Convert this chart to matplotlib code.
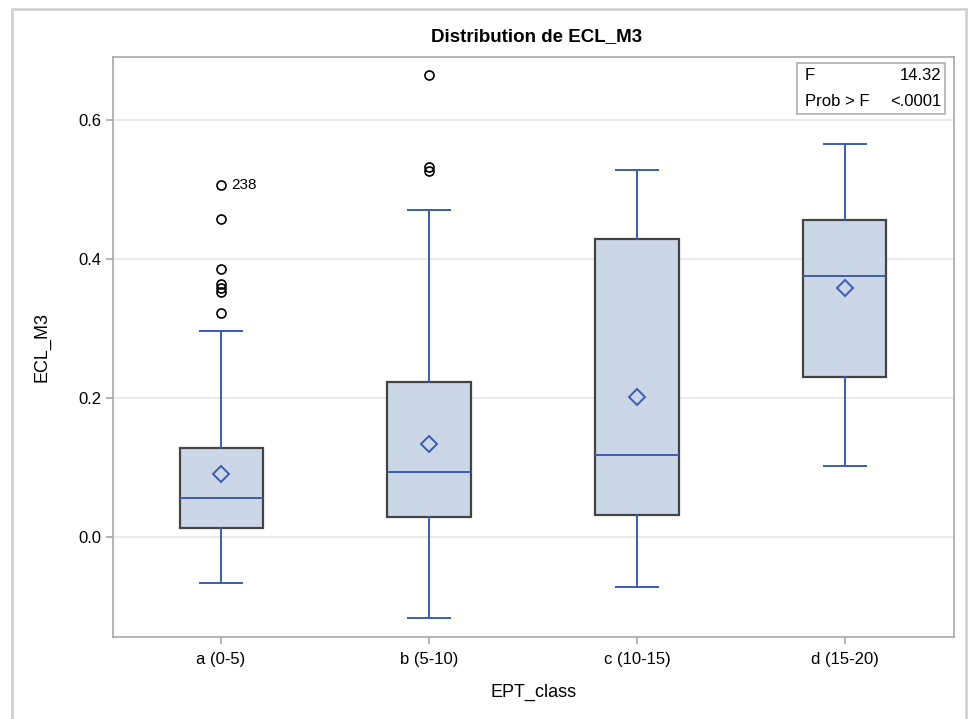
import numpy as np
import matplotlib
matplotlib.use('Agg')
import matplotlib.pyplot as plt
from matplotlib.patches import Rectangle

plt.rcParams['font.family'] = ['Liberation Sans', 'DejaVu Sans']

categories = ['a (0-5)', 'b (5-10)', 'c (10-15)', 'd (15-20)']
q1 = [0.013, 0.029, 0.032, 0.230]
median = [0.056, 0.094, 0.118, 0.376]
q3 = [0.128, 0.223, 0.429, 0.456]
whisker_low = [-0.066, -0.117, -0.072, 0.102]
whisker_high = [0.296, 0.471, 0.528, 0.565]
means = [0.091, 0.134, 0.201, 0.358]
outliers = [
    [0.507, 0.457, 0.385, 0.364, 0.358, 0.353, 0.322],
    [0.665, 0.532, 0.527],
    [],
    [],
]
f_value = '14.32'
p_value = '<.0001'

W, H = 971, 719
fig = plt.figure(figsize=(W / 100, H / 100), dpi=100)
ax = fig.add_axes([113 / W, 1 - 637 / H, (954 - 113) / W, (637 - 57) / H])

stats = []
for i in range(len(categories)):
    stats.append(dict(q1=q1[i], med=median[i], q3=q3[i], whislo=whisker_low[i],
                      whishi=whisker_high[i], mean=means[i], fliers=outliers[i],
                      label=categories[i]))

blue = '#3a5cb8'
ax.bxp(stats, positions=range(4), widths=0.4, patch_artist=True, showmeans=True,
       boxprops=dict(facecolor='#cbd6e6', edgecolor='#444444', linewidth=1.6),
       medianprops=dict(color=blue, linewidth=1.4),
       whiskerprops=dict(color=blue, linewidth=1.4),
       capprops=dict(color=blue, linewidth=1.4),
       capwidths=0.2,
       meanprops=dict(marker='D', markerfacecolor='none', markeredgecolor=blue,
                      markersize=8, markeredgewidth=1.4),
       flierprops=dict(marker='o', markerfacecolor='none', markeredgecolor='black',
                       markersize=6.5, markeredgewidth=1.2))

ax.annotate('238', (0, outliers[0][0]), xytext=(7, 0), textcoords='offset points',
            va='center', fontsize=11)

ax.set_xlim(-0.52, 3.525)
ax.set_ylim(-0.1439, 0.6906)
ax.set_yticks([0.0, 0.2, 0.4, 0.6])
ax.set_yticklabels(['0.0', '0.2', '0.4', '0.6'])
ax.yaxis.grid(True, color='#e6e6e6', linewidth=1.2)
ax.set_axisbelow(True)
for s in ax.spines.values():
    s.set_color('#a8a8a8')
    s.set_linewidth(1.2)
ax.tick_params(colors='#a8a8a8', labelcolor='black', labelsize=12, length=5, width=1.2)
ax.tick_params(axis='x', pad=6)

ax.set_xlabel('EPT_class', fontsize=13, labelpad=12)
ax.set_ylabel('ECL_M3', fontsize=13, labelpad=20)
fig.text(537 / W, 1 - 37 / H, 'Distribution de ECL_M3',
         ha='center', va='center', fontsize=13.5, fontweight='bold')

# statistics inset
box = Rectangle((797 / W, 1 - 114 / H), (945 - 797) / W, (114 - 63) / H,
                transform=fig.transFigure, facecolor='white', edgecolor='#b0b0b0',
                linewidth=1.2)
fig.patches.append(box)
fig.text(805 / W, 1 - 76 / H, 'F', fontsize=12, va='center')
fig.text(941 / W, 1 - 76 / H, f_value, fontsize=12, va='center', ha='right')
fig.text(805 / W, 1 - 101 / H, 'Prob > F', fontsize=12, va='center')
fig.text(941 / W, 1 - 101 / H, p_value, fontsize=12, va='center', ha='right')

# outer frame
frame = Rectangle((12 / W, -0.05), (966 - 12) / W, 1.05 - 9 / H,
                  transform=fig.transFigure, facecolor='none', edgecolor='#d2d2d2',
                  linewidth=2)
fig.patches.append(frame)

fig.savefig('out.png', dpi=100)
